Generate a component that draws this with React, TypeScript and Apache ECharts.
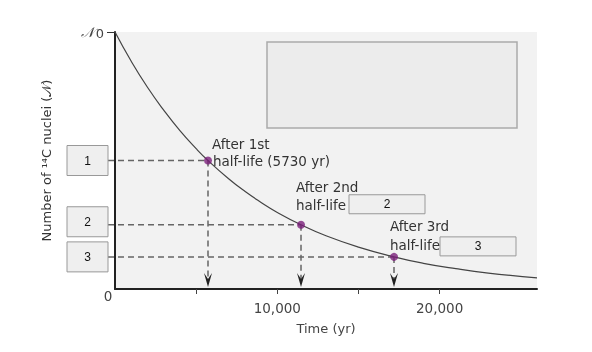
import React, { useEffect, useRef } from "react";
import * as echarts from "echarts";

// Curve: time (yr) vs fraction of N0 remaining
const timeYears = [0, 1000, 2000, 3000, 4000, 5000, 5730, 7000, 8000, 9000, 10000, 11460, 13000, 15000, 17190, 19000, 21000, 23000, 26000];
const remaining = [1, 0.886, 0.785, 0.696, 0.616, 0.546, 0.5, 0.429, 0.38, 0.337, 0.298, 0.25, 0.207, 0.163, 0.125, 0.1, 0.079, 0.062, 0.043];

// Half-life points
const halfLifeTimes = [5730, 11460, 17190];
const halfLifeFractions = [0.5, 0.25, 0.125];
const boxLabels = ["1", "2", "3"];

// Tick labels
const xTickValues = [5000, 10000, 15000, 20000];
const xLabelValues = [10000, 20000];

const FONT = "DejaVu Sans";

export default function App() {
  const ref = useRef<HTMLDivElement>(null);

  useEffect(() => {
    if (!ref.current) return;
    const chart = echarts.init(ref.current, undefined, { renderer: "svg" });
    chart.setOption({
      animation: false,
      textStyle: { fontFamily: FONT },
      grid: {
        left: 115,
        right: 55,
        top: 32,
        bottom: 63,
        show: true,
        backgroundColor: "#f2f2f2",
        borderWidth: 0,
      },
      xAxis: {
        type: "value",
        min: 0,
        max: 26000,
        splitLine: { show: false },
        axisLine: { lineStyle: { color: "#222", width: 2 } },
        axisTick: { show: true, customValues: xTickValues, length: 5, lineStyle: { color: "#444", width: 1 } },
        axisLabel: {
          customValues: xLabelValues,
          margin: 12,
          color: "#444",
          fontSize: 13.5,
          fontFamily: FONT,
          formatter: (v: number) => v.toLocaleString("en-US"),
        },
        name: "Time (yr)",
        nameLocation: "middle",
        nameGap: 33,
        nameTextStyle: { color: "#444", fontSize: 13, fontFamily: FONT },
      },
      yAxis: {
        type: "value",
        min: 0,
        max: 1,
        splitLine: { show: false },
        axisLine: { show: true, lineStyle: { color: "#222", width: 2 } },
        axisTick: { show: true, customValues: [1], length: 8, lineStyle: { color: "#333", width: 1 } },
        axisLabel: {
          customValues: [1],
          margin: 11,
          formatter: () => "{n|𝒩}{s|0}",
          rich: {
            n: { fontFamily: "DejaVu Serif", fontStyle: "italic", fontSize: 14, color: "#444" },
            s: { fontFamily: FONT, fontSize: 13, color: "#444", padding: [3, 0, 0, 2] },
          },
        },
        name: "Number of ¹⁴C nuclei (𝒩)",
        nameLocation: "middle",
        nameRotate: 90,
        nameGap: 62,
        nameTextStyle: { color: "#333", fontSize: 13, fontFamily: FONT },
      },
      series: [
        {
          type: "line",
          data: timeYears.map((t, i) => [t, remaining[i]]),
          smooth: true,
          showSymbol: false,
          lineStyle: { color: "#444", width: 1.2 },
          z: 3,
        },
        {
          type: "scatter",
          data: halfLifeTimes.map((t, i) => [t, halfLifeFractions[i]]),
          symbolSize: 8,
          itemStyle: { color: "#7a1f7a" },
          z: 4,
        },
      ],
    });

    const origin = chart.convertToPixel({ gridIndex: 0 }, [0, 0]) as number[];
    const axisY = origin[1];
    const pts = halfLifeTimes.map((t, i) => chart.convertToPixel({ gridIndex: 0 }, [t, halfLifeFractions[i]]) as number[]);

    const dashStyle = { stroke: "#666", lineWidth: 1.5, lineDash: [6, 4] };
    const boxStyle = { fill: "#efefef", stroke: "#999", lineWidth: 1 };
    const textStyle = { fill: "#333", fontSize: 13.5, fontFamily: FONT };
    const elements: any[] = [];

    // big empty box
    elements.push({
      type: "rect",
      z: 1,
      shape: { x: 267, y: 42, width: 250, height: 86 },
      style: { fill: "#ececec", stroke: "#aaa", lineWidth: 1.5 },
    });

    // origin "0"
    elements.push({
      type: "text",
      z: 1,
      x: 108,
      y: 296,
      style: { text: "0", fill: "#444", fontSize: 13.5, fontFamily: FONT, align: "center", verticalAlign: "middle" },
    });

    const leftBoxOffsets = [0, -3, 0];
    pts.forEach((p, i) => {
      elements.push({
        type: "line",
        z: 1,
        shape: { x1: 108, y1: p[1], x2: p[0], y2: p[1] },
        style: dashStyle,
      });
      elements.push({
        type: "line",
        z: 1,
        shape: { x1: p[0], y1: p[1], x2: p[0], y2: axisY - 6 },
        style: dashStyle,
      });
      elements.push({
        type: "polygon",
        z: 2,
        shape: {
          points: [
            [p[0], axisY - 2],
            [p[0] - 4, axisY - 16],
            [p[0], axisY - 10],
            [p[0] + 4, axisY - 16],
          ],
        },
        style: { fill: "#222" },
      });
      const by = p[1] - 15 + leftBoxOffsets[i];
      elements.push({
        type: "rect",
        z: 1,
        shape: { x: 67, y: by, width: 41, height: 30 },
        style: boxStyle,
      });
      elements.push({
        type: "text",
        z: 2,
        x: 87.5,
        y: by + 15,
        style: { text: boxLabels[i], fill: "#111", fontSize: 12, fontFamily: "Liberation Sans", align: "center", verticalAlign: "middle" },
      });
    });

    // annotations, positioned relative to each half-life dot
    const [p1, p2, p3] = pts;
    elements.push({
      type: "text", z: 2, x: p1[0] + 4, y: p1[1] - 17,
      style: { ...textStyle, text: "After 1st", verticalAlign: "middle" },
    });
    elements.push({
      type: "text", z: 2, x: p1[0] + 5, y: p1[1],
      style: { ...textStyle, text: "half-life (5730 yr)", verticalAlign: "middle" },
    });
    elements.push({
      type: "text", z: 2, x: p2[0] - 5, y: p2[1] - 38,
      style: { ...textStyle, text: "After 2nd", verticalAlign: "middle" },
    });
    elements.push({
      type: "text", z: 2, x: p2[0] - 5, y: p2[1] - 20,
      style: { ...textStyle, text: "half-life", verticalAlign: "middle" },
    });
    elements.push({
      type: "rect", z: 1,
      shape: { x: p2[0] + 48, y: p2[1] - 30, width: 76, height: 19 },
      style: boxStyle,
    });
    elements.push({
      type: "text", z: 2, x: p2[0] + 86, y: p2[1] - 20.5,
      style: { text: "2", fill: "#111", fontSize: 12, fontFamily: "Liberation Sans", align: "center", verticalAlign: "middle" },
    });
    elements.push({
      type: "text", z: 2, x: p3[0] - 4, y: p3[1] - 31,
      style: { ...textStyle, text: "After 3rd", verticalAlign: "middle" },
    });
    elements.push({
      type: "text", z: 2, x: p3[0] - 4, y: p3[1] - 12,
      style: { ...textStyle, text: "half-life", verticalAlign: "middle" },
    });
    elements.push({
      type: "rect", z: 1,
      shape: { x: p3[0] + 46, y: p3[1] - 20, width: 76, height: 19 },
      style: boxStyle,
    });
    elements.push({
      type: "text", z: 2, x: p3[0] + 84, y: p3[1] - 10.5,
      style: { text: "3", fill: "#111", fontSize: 12, fontFamily: "Liberation Sans", align: "center", verticalAlign: "middle" },
    });

    chart.setOption({ graphic: { elements } });

    return () => chart.dispose();
  }, []);

  return <div ref={ref} style={{ position: "fixed", left: 0, top: 0, width: 592, height: 352 }} />;
}
